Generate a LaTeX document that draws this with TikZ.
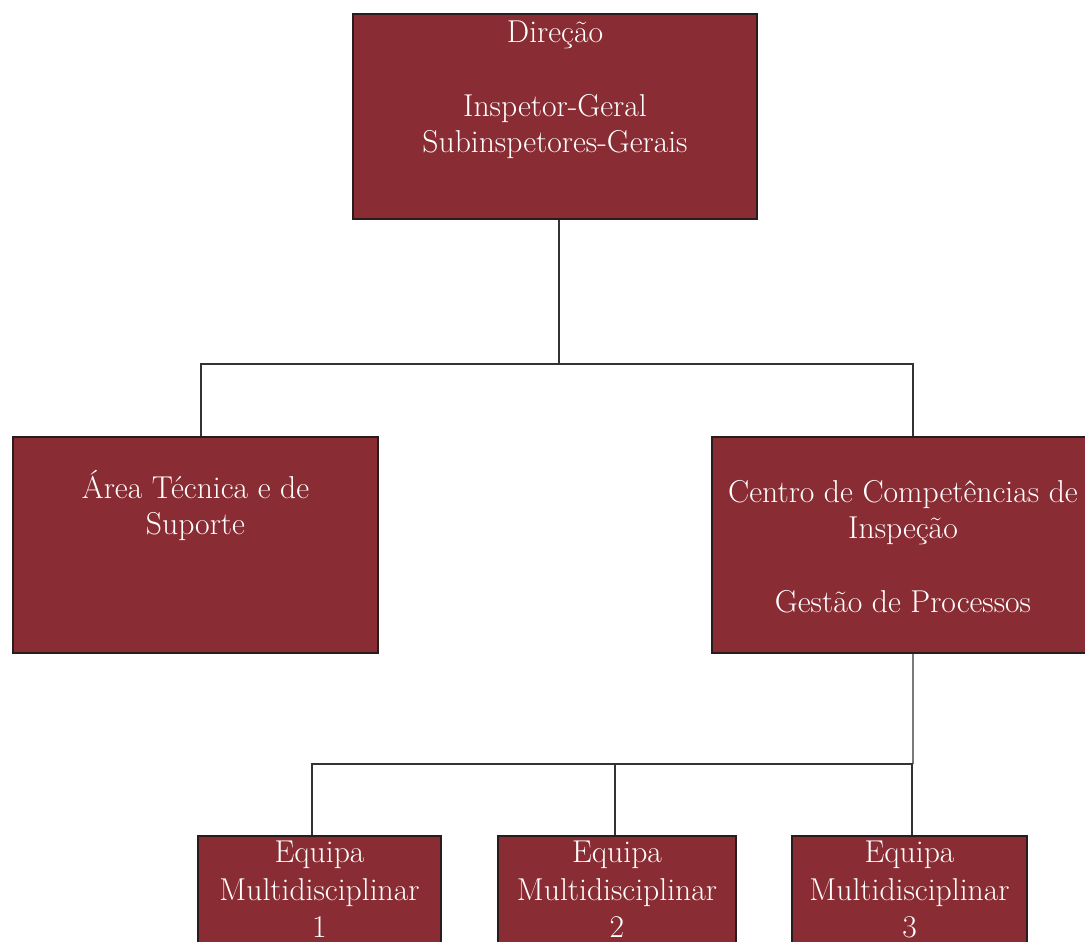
\documentclass[tikz,border=0pt]{standalone}
\usepackage{tikz}
\usetikzlibrary{positioning, calc}
\usepackage{xcolor}
\definecolor{orgred}{RGB}{137,44,51}
\definecolor{orgedge}{RGB}{40,28,28}

\begin{document}
\begin{tikzpicture}[x=0.02cm, y=-0.02cm,
  unit/.style={draw=orgedge, line width=1.1pt, fill=orgred, inner sep=0pt},
  caption/.style={text=white, align=center, inner sep=0pt, anchor=north,
    font=\fontsize{18}{20.5}\selectfont},
  team/.style={caption, font=\fontsize{18}{21.2}\selectfont},
  link/.style={draw=black!80, line width=0.8pt}]
\useasboundingbox (0,0) rectangle (1085,942);
% boxes
\node[unit, minimum width=80.8mm, minimum height=41mm] (dir) at (555,116.5) {};
\node[unit, minimum width=73mm, minimum height=43.2mm] (area) at (195.5,545) {};
\node[unit, minimum width=76.4mm, minimum height=43.2mm] (centro) at (903,545) {};
\node[unit, minimum width=48.6mm, minimum height=30mm] (eq1) at (319.5,911) {};
\node[unit, minimum width=47.6mm, minimum height=30mm] (eq2) at (617,911) {};
\node[unit, minimum width=47mm, minimum height=30mm] (eq3) at (909.5,911) {};
% texts
\node[caption] (dir-t) at ([yshift=-1.5mm]dir.north) {Direção\\[21.5pt]Inspetor-Geral\\Subinspetores-Gerais};
\node[caption] (area-t) at ([yshift=-6.8mm]area.north) {Área Técnica e de\\Suporte};
\node[caption] (centro-t) at ([yshift=-8.8mm]centro.north) {Centro de Competências de\\Inspeção\\[21.5pt]Gestão de Processos};
\node[team] (eq1-t) at ([yshift=-1.2mm]eq1.north) {Equipa\\Multidisciplinar\\1};
\node[team] (eq2-t) at ([yshift=-1.2mm]eq2.north) {Equipa\\Multidisciplinar\\2};
\node[team] (eq3-t) at ([yshift=-1.2mm]eq3.north) {Equipa\\Multidisciplinar\\3};
% connectors
\coordinate (busA) at (559,364);
\coordinate (busB) at (913,764);
\draw[link] (dir.south -| busA) -- (busA);
\draw[link] ([xshift=1.1mm]area.north) |- (busA) -| ([xshift=2mm]centro.north);
\draw[link] ([xshift=2mm]centro.south) -- (busB);
\draw[link] ([xshift=-1.5mm]eq1.north) |- (busB);
\draw[link] ([xshift=-0.4mm]eq2.north) |- (busB);
\draw[link] ([xshift=0.5mm]eq3.north) |- (busB);
\end{tikzpicture}
\end{document}
